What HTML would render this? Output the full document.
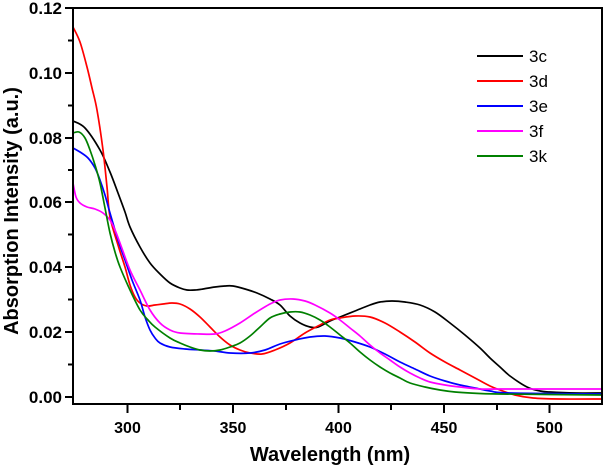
<!DOCTYPE html>
<html><head><meta charset="utf-8"><style>
html,body{margin:0;padding:0;background:#fff;}
svg{display:block;}
text{font-family:"Liberation Sans",Arial,sans-serif;fill:#000;}
.tk{font-size:16px;font-weight:bold;}
.ty{font-size:17px;font-weight:bold;}
.lg{font-size:17px;}
</style></head><body>
<svg id="s" width="606" height="469" viewBox="0 0 606 469" xmlns="http://www.w3.org/2000/svg">
<defs><clipPath id="c"><rect x="73" y="8" width="529" height="396"/></clipPath></defs>
<g id="curves" clip-path="url(#c)" fill="none" stroke-width="1.7" stroke-linejoin="round" stroke-linecap="round">
<polyline stroke="#000" points="73,121 85,128 100,150 110,172 118,193 125,212 130,227 140,247 150,263 160,274 170,283 180,288 187,290 195,290 203,289 215,287 225,286 233,286 245,289 257,293 270,299 280,305 290,316 300,323 310,327 318,327 330,321 340,317 355,311 370,305 380,302 392,301 405,302 420,305 435,312 450,323 465,335 480,348 490,358 500,367 510,376 527,387 540,391 550,392 575,393 603,393"/>
<polyline stroke="#ff0000" points="73,27 80,42 87,67 92,88 97,110 103,150 107,187 110,217 118,245 125,267 130,285 135,297 140,303 147,306 155,305 163,304 172,303 180,304 190,309 200,317 210,327 220,337 230,345 240,350 250,353 262,354 275,350 290,343 305,333 320,325 330,320 340,318 355,316 370,317 385,323 400,332 415,342 430,353 445,362 460,370 475,378 490,386 500,390 515,395 533,398 560,399 603,399"/>
<polyline stroke="#0000ff" points="73,148 80,152 88,158 95,168 100,180 105,195 110,213 118,240 125,260 132,280 140,300 145,317 150,330 155,338 160,343 170,347 185,349 200,350 215,351 230,353 250,353 265,350 280,344 295,340 310,337 325,336 340,338 355,342 370,347 385,354 400,362 415,369 430,376 445,381 460,385 475,388 490,391 510,393 603,394"/>
<polyline stroke="#ff00ff" points="73,183 76,197 80,203 87,207 95,209 103,213 110,220 115,230 120,243 130,270 140,290 150,310 160,323 170,330 180,333 200,334 215,334 225,331 240,323 255,313 270,304 280,300 293,299 305,301 315,305 330,313 340,320 350,328 360,336 370,345 380,353 390,360 400,367 410,373 420,378 430,382 445,385 460,387 480,389 500,389 603,389"/>
<polyline stroke="#008000" points="73,133 79,132 85,138 90,150 95,165 100,183 105,208 110,233 115,252 120,267 130,290 140,310 148,320 155,327 170,338 180,343 190,347 200,350 210,351 220,350 230,347 240,343 250,336 260,327 270,318 280,314 290,312 300,312 310,315 320,320 330,327 340,335 350,343 360,352 370,360 380,367 390,373 400,378 410,383 425,387 440,390 455,392 470,393 500,394 603,395"/>
</g>
<g stroke="#000" stroke-width="2" fill="none">
<rect x="73" y="8" width="529" height="396"/>
<path d="M127.5,404V413 M233,404V413 M338.5,404V413 M444,404V413 M549.5,404V413"/>
<path d="M180,404V410 M286,404V410 M391,404V410 M497,404V410"/>
<path d="M73,397H65 M73,332H65 M73,267H65 M73,202H65 M73,138H65 M73,73H65 M73,8H65"/>
<path d="M73,364.5H68 M73,299.5H68 M73,234.5H68 M73,170H68 M73,105.5H68 M73,40.5H68"/>
</g>
<g class="tk" text-anchor="middle">
<text x="127.5" y="433">300</text>
<text x="233" y="433">350</text>
<text x="338.5" y="433">400</text>
<text x="444" y="433">450</text>
<text x="549.5" y="433">500</text>
</g>
<g class="ty" text-anchor="end">
<text x="62" y="403">0.00</text>
<text x="62" y="338">0.02</text>
<text x="62" y="273">0.04</text>
<text x="62" y="208">0.06</text>
<text x="62" y="144">0.08</text>
<text x="62" y="79">0.10</text>
<text x="62" y="14">0.12</text>
</g>
<text x="330" y="461" text-anchor="middle" style="font-size:20px;font-weight:bold">Wavelength (nm)</text>
<text transform="translate(18,211) rotate(-90)" text-anchor="middle" style="font-size:20px;font-weight:bold">Absorption Intensity (a.u.)</text>
<g stroke-width="2">
<line x1="477" y1="56" x2="523" y2="56" stroke="#000"/>
<line x1="477" y1="81" x2="523" y2="81" stroke="#ff0000"/>
<line x1="477" y1="106" x2="523" y2="106" stroke="#0000ff"/>
<line x1="477" y1="131" x2="523" y2="131" stroke="#ff00ff"/>
<line x1="477" y1="156" x2="523" y2="156" stroke="#008000"/>
</g>
<g class="lg">
<text x="529" y="62">3c</text>
<text x="529" y="87">3d</text>
<text x="529" y="112">3e</text>
<text x="529" y="137">3f</text>
<text x="529" y="162">3k</text>
</g>
</svg>
<script>
(function(){
var ns="http://www.w3.org/2000/svg";
var pls=document.querySelectorAll("#curves polyline");
for(var k=0;k<pls.length;k++){
var pl=pls[k];
var pts=pl.getAttribute("points").trim().split(/\s+/).map(function(s){var a=s.split(",");return [+a[0],+a[1]];});
var d="M"+pts[0][0]+","+pts[0][1];
for(var i=0;i<pts.length-1;i++){
var p0=pts[i>0?i-1:i],p1=pts[i],p2=pts[i+1],p3=pts[i+2<pts.length?i+2:i+1];
var c1x=p1[0]+(p2[0]-p0[0])/6,c1y=p1[1]+(p2[1]-p0[1])/6;
var c2x=p2[0]-(p3[0]-p1[0])/6,c2y=p2[1]-(p3[1]-p1[1])/6;
d+=" C"+c1x.toFixed(2)+","+c1y.toFixed(2)+" "+c2x.toFixed(2)+","+c2y.toFixed(2)+" "+p2[0]+","+p2[1];
}
var p=document.createElementNS(ns,"path");
p.setAttribute("d",d);
p.setAttribute("stroke",pl.getAttribute("stroke"));
pl.parentNode.replaceChild(p,pl);
}
})();
</script>
</body></html>
